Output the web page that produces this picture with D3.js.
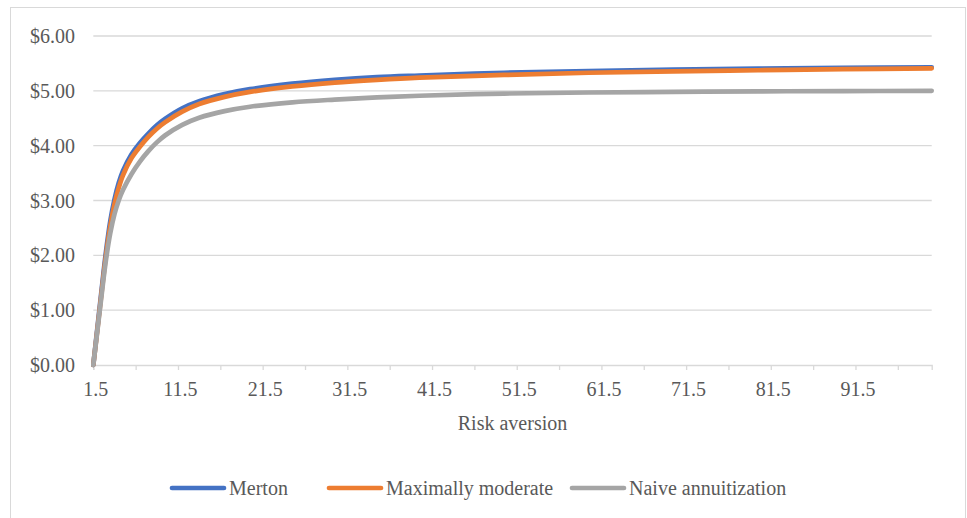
<html>
<head>
<meta charset="utf-8">
<title>Risk aversion chart</title>
<script src="https://d3js.org/d3.v7.min.js"></script>
<style>
  body { margin: 0; background: #fff; }
  text { font-family: "Liberation Serif", "Times New Roman", serif; fill: #595959; }
</style>
</head>
<body>
<div id="chart"></div>
<script>
var riskAversion = [1.5, 2, 2.5, 3, 3.5, 4, 4.5, 5, 6, 7, 8, 9, 10, 12, 14, 17, 20, 25, 30, 35, 40, 50, 60, 70, 80, 90, 100.5]
var merton      = [0, 0.70, 1.40, 2.07, 2.62, 3.02, 3.32, 3.54, 3.84, 4.05, 4.22, 4.37, 4.49, 4.68, 4.81, 4.94, 5.03, 5.13, 5.20, 5.25, 5.28, 5.33, 5.36, 5.385, 5.405, 5.42, 5.43]
var maxModerate = [0, 0.67, 1.35, 2.00, 2.53, 2.93, 3.23, 3.46, 3.77, 3.98, 4.16, 4.31, 4.43, 4.62, 4.76, 4.89, 4.98, 5.08, 5.15, 5.20, 5.24, 5.29, 5.33, 5.355, 5.375, 5.395, 5.41]
var naive       = [0, 0.65, 1.30, 1.92, 2.40, 2.75, 3.00, 3.19, 3.48, 3.71, 3.90, 4.06, 4.19, 4.38, 4.51, 4.63, 4.71, 4.79, 4.84, 4.88, 4.91, 4.95, 4.97, 4.98, 4.99, 4.995, 5.00]

var seriesNames = ["Merton", "Maximally moderate", "Naive annuitization"]
var seriesColors = ["#4472C4", "#ED7D31", "#A5A5A5"]
var yTicks = [0, 1, 2, 3, 4, 5, 6]

var W = 967, H = 518
var plotLeft = 93.3, plotRight = 931.7, plotTop = 36, plotBottom = 365

var svg = d3.select("#chart").append("svg")
    .attr("width", W)
    .attr("height", H)

// chart frame
svg.append("rect")
    .attr("x", 10.5).attr("y", 7.5)
    .attr("width", 955).attr("height", 520)
    .attr("fill", "none")
    .attr("stroke", "#d9d9d9")

var x = d3.scaleLinear().domain([1.5, 100.5]).range([plotLeft, plotRight])
var y = d3.scaleLinear().domain([0, 6]).range([plotBottom, plotTop])

// gridlines
svg.selectAll(".grid")
    .data(yTicks.slice(1))
    .enter().append("line")
    .attr("x1", plotLeft).attr("x2", plotRight)
    .attr("y1", function(d) { return y(d) }).attr("y2", function(d) { return y(d) })
    .attr("stroke", "#d9d9d9").attr("stroke-width", 1.3)

// y labels
svg.selectAll(".ylab")
    .data(yTicks)
    .enter().append("text")
    .attr("x", 75)
    .attr("y", function(d) { return y(d) })
    .attr("dy", "0.35em")
    .attr("text-anchor", "end")
    .style("font-size", "20px")
    .text(function(d) { return d3.format("$.2f")(d) })

// x axis
var xAxis = d3.axisBottom(x)
    .tickValues(d3.range(1.5, 101, 5))
    .tickSize(5)
    .tickFormat(function(d) { return (d - 1.5) % 10 === 0 ? d : "" })

var gx = svg.append("g")
    .attr("transform", "translate(0," + plotBottom + ")")
    .call(xAxis)
gx.select(".domain").attr("stroke", "#d9d9d9").attr("stroke-width", 1.3)
gx.selectAll(".tick line").attr("stroke", "#d9d9d9").attr("stroke-width", 1.3)
gx.selectAll(".tick text")
    .attr("y", 17)
    .attr("dx", 2)
    .style("font-size", "20px")
    .style("font-family", "Liberation Serif")
    .attr("fill", "#595959")

// axis title
svg.append("text")
    .attr("x", (plotLeft + plotRight) / 2)
    .attr("y", 430)
    .attr("text-anchor", "middle")
    .style("font-size", "20px")
    .text("Risk aversion")

// lines (smoothed like the spreadsheet original)
var line = d3.line()
    .x(function(d) { return x(d[0]) })
    .y(function(d) { return y(d[1]) })
    .curve(d3.curveCatmullRom.alpha(0.5))

var allSeries = [merton, maxModerate, naive]
allSeries.forEach(function(vals, i) {
    svg.append("path")
        .datum(d3.zip(riskAversion, vals))
        .attr("d", line)
        .attr("fill", "none")
        .attr("stroke", seriesColors[i])
        .attr("stroke-width", 4.7)
        .attr("stroke-linecap", "round")
        .attr("stroke-linejoin", "round")
})

// legend
var legendX = [172, 329, 572]
var lg = svg.selectAll(".legend")
    .data(seriesNames)
    .enter().append("g")
    .attr("transform", function(d, i) { return "translate(" + legendX[i] + ",488)" })

lg.append("line")
    .attr("x1", 0).attr("x2", 52)
    .attr("stroke", function(d, i) { return seriesColors[i] })
    .attr("stroke-width", 4.7)
    .attr("stroke-linecap", "round")

lg.append("text")
    .attr("x", 57)
    .attr("dy", "0.35em")
    .style("font-size", "20px")
    .text(function(d) { return d })
</script>
</body>
</html>
